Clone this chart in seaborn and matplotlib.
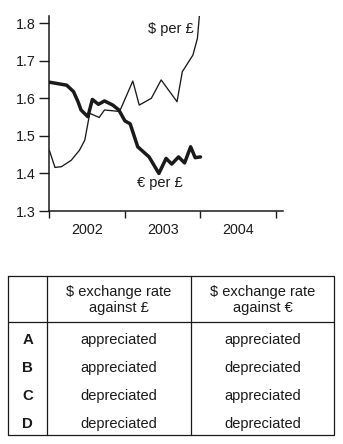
import matplotlib
matplotlib.use("Agg")
import matplotlib.pyplot as plt
import seaborn as sns
import pandas as pd

# ---- data ----
eur_years = [2002.00, 2002.23, 2002.32, 2002.38, 2002.42, 2002.51, 2002.57, 2002.65,
             2002.73, 2002.84, 2002.92, 2003.00, 2003.07, 2003.17, 2003.32, 2003.45,
             2003.545, 2003.62, 2003.71, 2003.79, 2003.87, 2003.93, 2004.00]
eur_per_gbp = [1.643, 1.635, 1.618, 1.591, 1.569, 1.551, 1.597, 1.584,
               1.593, 1.582, 1.569, 1.540, 1.532, 1.471, 1.444, 1.400,
               1.440, 1.425, 1.444, 1.428, 1.471, 1.442, 1.444]

usd_years = [2002.00, 2002.075, 2002.16, 2002.29, 2002.40, 2002.47, 2002.535, 2002.66,
             2002.73, 2002.93, 2003.105, 2003.19, 2003.35, 2003.48, 2003.69, 2003.76,
             2003.90, 2003.96, 2003.99]
usd_per_gbp = [1.462, 1.416, 1.418, 1.435, 1.462, 1.489, 1.560, 1.549,
               1.569, 1.565, 1.646, 1.582, 1.600, 1.649, 1.591, 1.671,
               1.715, 1.760, 1.830]

year_ticks = [2002, 2003, 2004, 2005]
year_labels = ["2002", "2003", "2004"]
y_ticks = [1.3, 1.4, 1.5, 1.6, 1.7, 1.8]

header_cols = ["$ exchange rate\nagainst £", "$ exchange rate\nagainst €"]
row_letters = ["A", "B", "C", "D"]
col1_values = ["appreciated", "appreciated", "depreciated", "depreciated"]
col2_values = ["appreciated", "depreciated", "appreciated", "depreciated"]

# ---- style ----
sns.set_style("ticks")
plt.rcParams["font.family"] = ["Liberation Sans", "DejaVu Sans"]
ink = "#1a1a1a"

W, H = 343, 444
fig = plt.figure(figsize=(W / 100, H / 100), dpi=100)

# ---- chart ----
left, right, top, bottom = 49.3, 283, 15.7, 211
ax = fig.add_axes([left / W, 1 - bottom / H, (right - left) / W, (bottom - top) / H])

usd_df = pd.DataFrame({"year": usd_years, "rate": usd_per_gbp})
eur_df = pd.DataFrame({"year": eur_years, "rate": eur_per_gbp})
sns.lineplot(data=usd_df, x="year", y="rate", ax=ax, color=ink, linewidth=0.95,
             estimator=None)
sns.lineplot(data=eur_df, x="year", y="rate", ax=ax, color=ink, linewidth=2.5,
             estimator=None)

x_per_px = 1 / 76.0
ax.set_xlim(2002, 2005 + (right - 276) * x_per_px)
ax.set_ylim(1.3, 1.82)
ax.set_xlabel("")
ax.set_ylabel("")

ax.set_yticks(y_ticks)
ax.set_yticklabels([f"{v:.1f}" for v in y_ticks])
ax.set_xticks(year_ticks)
ax.set_xticklabels([])
ax.set_xticks([y + 0.5 for y in year_ticks[:-1]], minor=True)
ax.set_xticklabels(year_labels, minor=True)

ax.tick_params(axis="y", which="major", length=7, width=1.0, pad=3, labelsize=10.3,
               colors=ink, direction="out")
ax.tick_params(axis="x", which="major", length=5, width=1.0, colors=ink, direction="out")
ax.tick_params(axis="x", which="minor", length=0, pad=9, labelsize=10.3, colors=ink)

for s in ["top", "right"]:
    ax.spines[s].set_visible(False)
for s in ["left", "bottom"]:
    ax.spines[s].set_linewidth(1.1)
    ax.spines[s].set_color(ink)

ax.text(2003.61, 1.785, "$ per £", ha="center", va="center", fontsize=10.5, color=ink)
ax.text(2003.46, 1.374, "€ per £", ha="center", va="center", fontsize=10.5, color=ink)

# ---- table ----
tx = fig.add_axes([0, 0, 1, 1])
tx.set_xlim(0, W)
tx.set_ylim(H, 0)
tx.axis("off")

x0, x1, x2, x3 = 8.3, 46.7, 190.7, 334.3
y0, yh, y1 = 276, 322.3, 435
lw = 0.9
tx.plot([x0, x3, x3, x0, x0], [y0, y0, y1, y1, y0], color=ink, lw=lw)
tx.plot([x1, x1], [y0, y1], color=ink, lw=lw)
tx.plot([x2, x2], [y0, y1], color=ink, lw=lw)
tx.plot([x0, x3], [yh, yh], color=ink, lw=lw)

col_centers = [(x1 + x2) / 2, (x2 + x3) / 2]
for cx, label in zip(col_centers, header_cols):
    tx.text(cx, 300, label, ha="center", va="center", multialignment="center",
            fontsize=10.5, color=ink, linespacing=1.25)

row_y = [340, 368.3, 396, 424]
for ry, letter, v1, v2 in zip(row_y, row_letters, col1_values, col2_values):
    tx.text((x0 + x1) / 2 + 0.3, ry, letter, ha="center", va="center",
            fontsize=10.8, fontweight="bold", color=ink)
    tx.text(col_centers[0], ry, v1, ha="center", va="center", fontsize=10.5, color=ink)
    tx.text(col_centers[1], ry, v2, ha="center", va="center", fontsize=10.5, color=ink)

fig.savefig("out.png", dpi=100)
